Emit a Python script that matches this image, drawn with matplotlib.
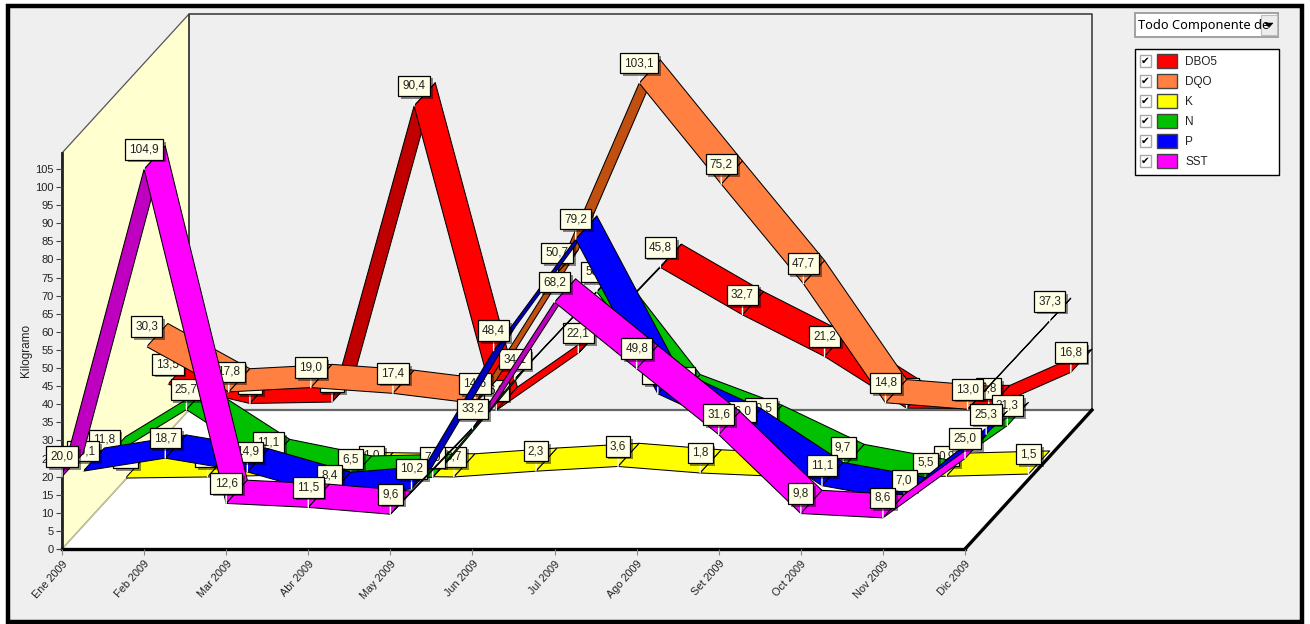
import matplotlib
matplotlib.use("Agg")
import matplotlib.pyplot as plt
import matplotlib.patheffects as pe
from matplotlib.patches import Rectangle, Polygon

months = ["Ene 2009", "Feb 2009", "Mar 2009", "Abr 2009", "May 2009", "Jun 2009",
          "Jul 2009", "Ago 2009", "Set 2009", "Oct 2009", "Nov 2009", "Dic 2009"]

# monthly load per component, in kilograms
DBO5 = [13.5, 8.2, 8.6, 90.4, 6.3, 22.1, 45.8, 32.7, 21.2, 6.9, 6.8, 16.8]
DQO = [30.3, 17.8, 19.0, 17.4, 14.6, 50.7, 103.1, 75.2, 47.7, 14.8, 13.0, 37.3]
K = [0.4, 0.7, 1.3, 1.0, 0.7, 2.3, 3.6, 1.8, 0.8, 0.5, 0.9, 1.5]
N = [11.8, 25.7, 11.1, 6.5, 7.0, 34.1, 58.2, 29.0, 20.5, 9.7, 5.5, 21.3]
P = [15.1, 18.7, 14.9, 8.4, 10.2, 48.4, 79.2, 36.5, 26.0, 11.1, 7.0, 25.3]
SST = [20.0, 104.9, 12.6, 11.5, 9.6, 33.2, 68.2, 49.8, 31.6, 9.8, 8.6, 25.0]

# drawn back to front: name, values, face colour, colour of the underside
series = [
    ("DBO5", DBO5, "#FF0000", "#C00000"),
    ("DQO", DQO, "#FF8040", "#C05010"),
    ("K", K, "#FFFF00", "#C0C000"),
    ("N", N, "#00C000", "#009000"),
    ("P", P, "#0000FF", "#0000C0"),
    ("SST", SST, "#FF00FF", "#C000C0"),
]
legend_order = ["DBO5", "DQO", "K", "N", "P", "SST"]

SANS = ["Liberation Sans", "DejaVu Sans"]
W, H = 1310, 624
# full depth of the 3D box, in months along x and in kilograms along y
DEPTH_X = 1.547
DEPTH_Y = 38.4
N_SLOTS = len(series)
YMAX = 109.4

fig = plt.figure(figsize=(W / 100, H / 100), dpi=100, facecolor="white")

# window frame and right-hand panel, in pixel coordinates
ui = fig.add_axes([0, 0, 1, 1], zorder=0)
ui.set_xlim(0, W)
ui.set_ylim(H, 0)
ui.axis("off")
ui.add_patch(Rectangle((8, 5.5), 1293.5, 616.5, fc="#EFEFEF", ec="black", lw=3.2))

ax = fig.add_axes([62 / W, (H - 549) / H, (965 - 62) / W, (549 - 153) / H], zorder=1)
ax.set_xlim(0, 11)
ax.set_ylim(0, YMAX)
ax.patch.set_alpha(0)

last = len(months) - 1
# back wall, side wall and floor of the box
ax.add_patch(Polygon([(DEPTH_X, DEPTH_Y), (last + DEPTH_X, DEPTH_Y),
                      (last + DEPTH_X, YMAX + DEPTH_Y), (DEPTH_X, YMAX + DEPTH_Y)],
                     fc="#EFEFEF", ec="none", clip_on=False, zorder=1))
ax.add_patch(Polygon([(0, 0), (DEPTH_X, DEPTH_Y), (DEPTH_X, YMAX + DEPTH_Y), (0, YMAX)],
                     fc="#FFFFD0", ec="#555555", lw=0.9, clip_on=False, zorder=1.2))
ax.add_patch(Polygon([(0, 0), (DEPTH_X, DEPTH_Y), (last + DEPTH_X, DEPTH_Y), (last, 0)],
                     fc="white", ec="none", clip_on=False, zorder=1.1))
ax.plot([DEPTH_X, last + DEPTH_X], [DEPTH_Y, DEPTH_Y], color="#666666", lw=1.6,
        clip_on=False, zorder=1.3)
ax.plot([DEPTH_X, DEPTH_X, last + DEPTH_X, last + DEPTH_X],
        [DEPTH_Y, YMAX + DEPTH_Y, YMAX + DEPTH_Y, DEPTH_Y],
        color="#333333", lw=1.1, clip_on=False, zorder=1.3)
ax.plot([last, last + DEPTH_X], [0, DEPTH_Y], color="black", lw=2.4, clip_on=False, zorder=1.4)
ax.plot([0, DEPTH_X], [0, DEPTH_Y], color="#C8C8A0", lw=1.0, clip_on=False, zorder=1.4)

# ribbons: the frontmost series takes the first depth slot
step_x = DEPTH_X / N_SLOTS
step_y = DEPTH_Y / N_SLOTS
turnover = DEPTH_Y / DEPTH_X
z = 5.0
for i, (name, values, face, under) in enumerate(series):
    slot = N_SLOTS - 1 - i
    ox, oy = slot * step_x, slot * step_y
    for m in range(last):
        v0, v1 = values[m], values[m + 1]
        color = under if (v1 - v0) > turnover else face
        poly = [(m + ox, v0 + oy), (m + 1 + ox, v1 + oy),
                (m + 1 + ox + step_x, v1 + oy + step_y), (m + ox + step_x, v0 + oy + step_y)]
        ax.add_patch(Polygon(poly, fc=color, ec="black", lw=0.75, joinstyle="round",
                             clip_on=False, zorder=z))
        z += 0.01
    z += 0.1
    for m, v in enumerate(values):
        t = ax.annotate(f"{v:.1f}".replace(".", ","), xy=(m + ox, v + oy), xytext=(0, 14.4),
                        textcoords="offset points", ha="center", va="center",
                        fontsize=8.5, family=SANS, color="#222222", zorder=z, annotation_clip=False,
                        bbox=dict(boxstyle="square,pad=0.36", fc="#FFFFE6", ec="black", lw=0.9),
                        arrowprops=dict(arrowstyle="-", color="white", lw=1.0, shrinkA=0, shrinkB=0))
        t.get_bbox_patch().set_path_effects([
            pe.SimplePatchShadow(offset=(2, -2), shadow_rgbFace="black", alpha=0.45),
            pe.Normal(),
        ])
        z += 0.01
    z += 0.1

for side in ("top", "right"):
    ax.spines[side].set_visible(False)
ax.spines["left"].set_linewidth(2.0)
ax.spines["bottom"].set_linewidth(2.4)
ax.spines["left"].set_color("#222222")
ax.spines["bottom"].set_color("black")
ax.spines["left"].set_zorder(1.5)
ax.spines["bottom"].set_zorder(1.5)

ax.set_xticks(range(len(months)))
ax.set_xticklabels(months, rotation=48, ha="right", va="top", rotation_mode="anchor",
                   fontsize=7.8, family=SANS, color="#222222")
ax.set_yticks(range(0, 106, 5))
ax.tick_params(axis="y", length=4, width=0.8, pad=2, labelsize=8, labelcolor="#222222", color="#444444")
ax.tick_params(axis="x", length=4, width=0.8, pad=3, color="#888888")
for lab in ax.get_yticklabels():
    lab.set_family(SANS)
ax.set_ylabel("Kilogramo", fontsize=8.5, family=SANS, color="#222222")
ax.yaxis.set_label_coords(-30 / (965 - 62), (549 - 350) / (549 - 153))

# overlay for the selector and the checkbox legend
top = fig.add_axes([0, 0, 1, 1], zorder=2)
top.set_xlim(0, W)
top.set_ylim(H, 0)
top.axis("off")

top.add_patch(Rectangle((1135, 13), 143, 24, fc="white", ec="#A0A0A0", lw=1.4))
top.text(1138, 25, "Todo Componente de", fontsize=9.2, family=["Noto Sans", "DejaVu Sans"],
         va="center", ha="left", color="black", clip_on=True,
         clip_path=Rectangle((1136, 14), 125, 22, transform=top.transData))
top.add_patch(Rectangle((1261, 15), 15.5, 20, fc="#EDEDED", ec="#BDBDBD", lw=0.8))
top.add_patch(Polygon([(1265, 23), (1273, 23), (1269, 27.5)], fc="black", ec="black", lw=0.4))

top.add_patch(Rectangle((1135, 48.5), 144, 126.5, fc="white", ec="black", lw=1.0))
colors = {name: face for name, _, face, _ in series}
for row, name in enumerate(legend_order):
    y = 61 + row * 20
    top.add_patch(Rectangle((1140, y - 6), 11, 12, fc="white", ec="#A8A8A8", lw=1.0))
    top.text(1145.5, y, "\u2714", fontsize=7.5, ha="center", va="center", color="black",
             family="DejaVu Sans")
    top.add_patch(Rectangle((1157, y - 7), 20, 14, fc=colors[name], ec="#444444", lw=1.0))
    top.text(1185, y + 1, name, fontsize=8.5, family=SANS, ha="left", va="center", color="#222222")

fig.savefig("out.png", dpi=100)
